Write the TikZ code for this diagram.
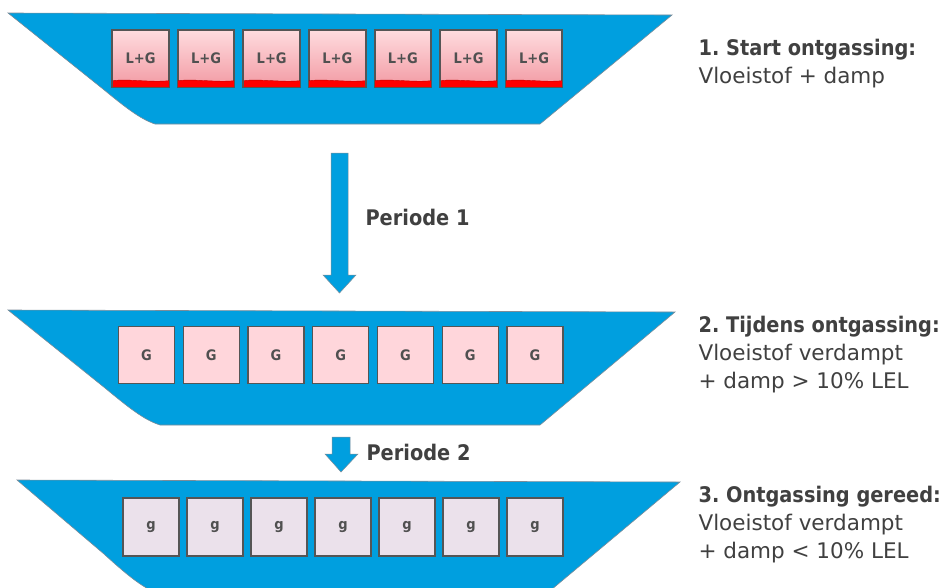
\documentclass[tikz,border=0pt]{standalone}
\usepackage{fontspec}
\setmainfont{DejaVu Sans}[BoldFeatures={FakeStretch=0.9}]
\usetikzlibrary{calc}

\definecolor{hullblue}{HTML}{009FDF}
\definecolor{hulledge}{HTML}{7D8C98}
\definecolor{boxedge}{HTML}{555555}
\definecolor{txt}{HTML}{404040}
\definecolor{boxtxt}{HTML}{505050}
\definecolor{pinktop}{HTML}{FFDCDF}
\definecolor{pinkbot}{HTML}{F29AA3}
\definecolor{gfill}{HTML}{FFD6DB}
\definecolor{smallgfill}{HTML}{EBE1EB}
\definecolor{liquid}{HTML}{FF0000}

\tikzset{
  hull/.style={fill=hullblue, draw=hulledge, line width=0.6},
  tank/.style={draw=boxedge, line width=1.3, minimum width=56, minimum height=57,
    inner sep=0, font=\fontsize{14.5}{14.5}\selectfont\bfseries, text=boxtxt},
  lgtank/.style={tank, top color=pinktop, bottom color=pinkbot},
  gtank/.style={tank, fill=gfill},
  smalltank/.style={tank, fill=smallgfill, minimum height=58},
  flow/.style={fill=hullblue, draw=hulledge, line width=0.5},
  head/.style={anchor=base west, text=txt, font=\fontsize{21.5}{21.5}\selectfont\bfseries},
  body/.style={anchor=base west, text=txt, font=\fontsize{21.5}{21.5}\selectfont},
}

\frenchspacing
\begin{document}
\begin{tikzpicture}[x=1pt, y=-1pt]
\useasboundingbox (0,0) rectangle (952,587);
\clip (0,0) rectangle (952,587);

% --- ship 1: liquid + gas ---
\path[hull] (8,13) -- (672,15) -- (540,124) -- (155,124)
  .. controls (140,119) and (125,107) .. (103,89) -- cycle;
\foreach \i in {1,...,7} {
  \node[lgtank] (a\i) at ({140.5+65.6*(\i-1)}, 58.5) {L+G};
  \fill[liquid, draw=red!75!black, line width=0.4]
    ($(a\i.south west)+(0,-7)$) .. controls +(18,-2) and +(-18,2) .. ($(a\i.south east)+(0,-7)$)
    -- (a\i.south east) -- (a\i.south west) -- cycle;
  \draw[boxedge, line width=1.3] (a\i.south west) rectangle (a\i.north east);
}
\node[head] (s1) at (695,55) {1. Start ontgassing:};
\node[body] (s1b) at (695,83) {Vloeistof + damp};

% --- period 1 arrow ---
\path[flow] (331,153) -- (348,153) -- (348,275) -- (356,275) -- (339.5,293)
  -- (323,275) -- (331,275) -- cycle;
\node[head] (p1) at (362,225) {Periode 1};

% --- ship 2: gas ---
\path[hull] (8,310) -- (675,312) -- (540,425) -- (160,425)
  .. controls (144,420) and (128,407) .. (105,388) -- cycle;
\foreach \i in {1,...,7} {
  \node[gtank] (b\i) at ({146.5+64.75*(\i-1)}, 355) {G};
}
\node[head] (s2) at (695,332) {2. Tijdens ontgassing:};
\node[body] (s2b) at (695,360) {Vloeistof verdampt};
\node[body] (s2c) at (695,388) {+ damp > 10\% LEL};

% --- period 2 arrow ---
\path[flow] (332,437) -- (350,437) -- (350,454) -- (358,454) -- (341,472)
  -- (325,454) -- (332,454) -- cycle;
\node[head] (p2) at (363,460) {Periode 2};

% --- ship 3: degassed ---
\path[hull] (17,480) -- (680,482) -- (545,595) -- (162,595)
  .. controls (145,590) and (127,575) .. (104,554) -- cycle;
\foreach \i in {1,...,7} {
  \node[smalltank] (c\i) at ({151+64*(\i-1)}, 527) {g};
}
\node[head] (s3) at (695,502) {3. Ontgassing gereed:};
\node[body] (s3b) at (695,530) {Vloeistof verdampt};
\node[body] (s3c) at (695,558) {+ damp < 10\% LEL};
\end{tikzpicture}
\end{document}
